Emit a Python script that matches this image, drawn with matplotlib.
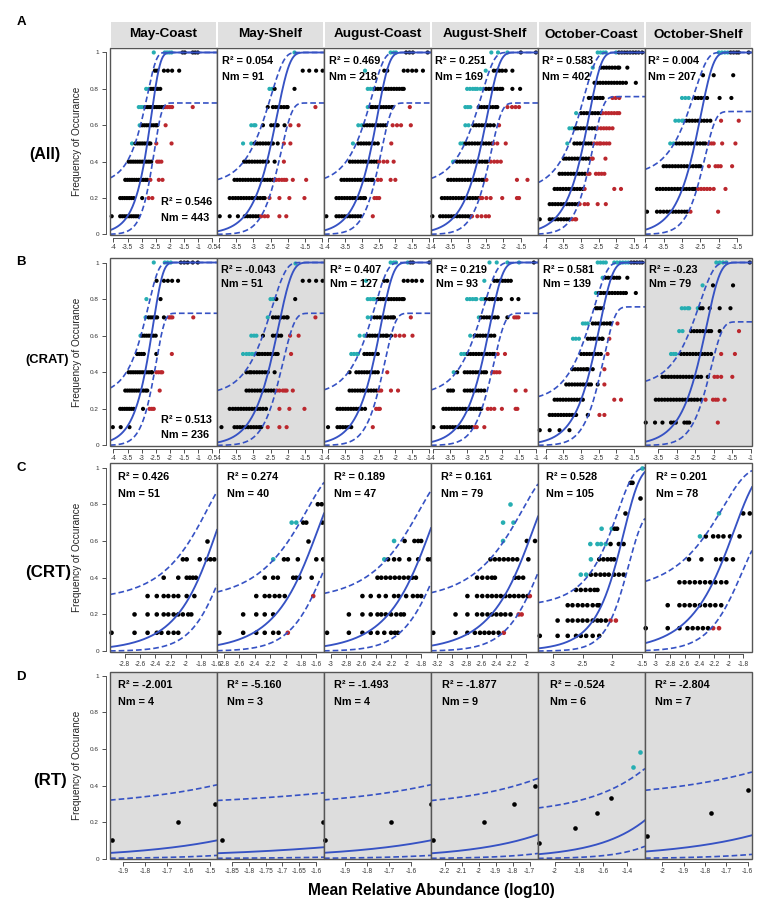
import math
import numpy as np
import matplotlib
matplotlib.use("Agg")
import matplotlib.pyplot as plt
from matplotlib.patches import Rectangle
from matplotlib.ticker import MultipleLocator, FuncFormatter

plt.rcParams['font.family'] = ['Liberation Sans', 'DejaVu Sans']
plt.rcParams['axes.unicode_minus'] = False

# ---------------- data ----------------
strip_titles = ['May-Coast', 'May-Shelf', 'August-Coast', 'August-Shelf', 'October-Coast', 'October-Shelf']
row_letters = ['A', 'B', 'C', 'D']
row_names = ['(All)', '(CRAT)', '(CRT)', '(RT)']
n_samples = [10, 10, 10, 10, 12, 8]

r2_labels = [
    ['0.546', '0.054', '0.469', '0.251', '0.583', '0.004'],
    ['0.513', '-0.043', '0.407', '0.219', '0.581', '-0.23'],
    ['0.426', '0.274', '0.189', '0.161', '0.528', '0.201'],
    ['-2.001', '-5.160', '-1.493', '-1.877', '-0.524', '-2.804'],
]
nm_values = [
    [443, 91, 218, 169, 402, 207],
    [236, 51, 127, 93, 139, 79],
    [51, 40, 47, 79, 105, 78],
    [4, 3, 4, 9, 6, 7],
]

# x range and tick step of every panel
x_limits = [
    [(-4.12, -0.33), (-4.06, -0.94), (-4.12, -0.94), (-4.06, -1.01), (-4.22, -1.19), (-4.005, -1.1)],
    [(-4.12, -0.33), (-4.06, -0.94), (-4.12, -0.94), (-4.06, -0.95), (-4.22, -1.19), (-3.85, -0.97)],
    [(-2.99, -1.595), (-2.89, -1.5), (-3.09, -1.67), (-3.28, -1.84), (-3.25, -1.45), (-3.14, -1.68)],
    [(-1.96, -1.47), (-1.895, -1.576), (-1.995, -1.51), (-2.28, -1.65), (-2.14, -1.25), (-2.08, -1.58)],
]
x_steps = [
    [0.5, 0.5, 0.5, 0.5, 0.5, 0.5],
    [0.5, 0.5, 0.5, 0.5, 0.5, 0.5],
    [0.2, 0.2, 0.2, 0.2, 0.5, 0.2],
    [0.1, 0.05, 0.1, 0.1, 0.2, 0.1],
]

# one point read on each fitted (solid) curve: (log10 abundance, frequency)
curve_refs = [
    [(-2.80, 0.5), (-2.48, 0.5), (-2.69, 0.5), (-2.62, 0.5), (-2.93, 0.5), (-2.65, 0.5)],
    [(-2.76, 0.5), (-2.44, 0.5), (-2.60, 0.5), (-2.52, 0.5), (-2.64, 0.5), (-2.36, 0.5)],
    [(-1.62, 0.63), (-1.50, 0.75), (-1.67, 0.67), (-1.88, 0.69), (-1.92, 0.5), (-1.71, 0.87)],
    [(-1.47, 0.10), (-1.58, 0.062), (-1.52, 0.098), (-1.665, 0.127), (-1.28, 0.195), (-1.60, 0.122)],
]

# taxa: number of samples where found -> log10 mean relative abundance
all_may_coast = {
    1: [-4.06, -3.76, -3.68, -3.6, -3.52, -3.44, -3.36, -3.28, -3.2, -3.12],
    2: [-3.76, -3.68, -3.6, -3.52, -3.44, -3.36, -3.28, -2.98, -2.75, -2.62],
    3: [-3.58, -3.5, -3.42, -3.34, -3.26, -3.18, -3.1, -3.02, -2.94, -2.86, -2.8, -2.69, -2.39, -2.26],
    4: [-3.46, -3.38, -3.3, -3.22, -3.14, -3.06, -2.98, -2.9, -2.82, -2.74, -2.66, -2.45, -2.38, -2.3],
    5: [-3.34, -3.22, -3.14, -3.06, -2.98, -2.9, -2.82, -2.74, -2.69, -2.48, -1.94],
    6: [-3.07, -2.98, -2.9, -2.82, -2.74, -2.66, -2.58, -2.5, -2.45, -2.15],
    7: [-3.1, -3.02, -2.94, -2.86, -2.78, -2.7, -2.62, -2.54, -2.46, -2.38, -2.3, -2.22, -2.15, -2.08, -2.0, -1.92, -1.19],
    8: [-2.84, -2.75, -2.67, -2.59, -2.51, -2.43, -2.34],
    9: [-2.53, -2.45, -2.21, -2.07, -1.92, -1.67],
    10: [-2.57, -2.18, -2.1, -2.02, -1.94, -1.55, -1.47, -1.19, -1.1, -1.01],
}
all_may_shelf = {
    1: [-3.98, -3.69, -3.45, -3.25, -3.17, -3.09, -3.01, -2.93, -2.85, -2.77, -2.67, -2.58, -2.24, -2.04],
    2: [-3.69, -3.6, -3.52, -3.44, -3.36, -3.28, -3.2, -3.12, -3.04, -2.96, -2.88, -2.8, -2.72, -2.67, -2.53, -2.24, -1.95, -1.51],
    3: [-3.55, -3.47, -3.39, -3.31, -3.23, -3.15, -3.07, -2.99, -2.91, -2.83, -2.75, -2.67, -2.59, -2.51, -2.43, -2.38,
        -2.33, -2.25, -2.17, -2.1, -2.04, -1.85, -1.46],
    4: [-3.27, -3.2, -3.12, -3.04, -2.96, -2.88, -2.8, -2.72, -2.64, -2.58, -2.38, -2.11],
    5: [-3.3, -3.06, -2.96, -2.88, -2.8, -2.72, -2.64, -2.56, -2.48, -2.43, -2.29, -2.11, -1.92],
    6: [-3.06, -2.98, -2.94, -2.72, -2.48, -2.4, -2.32, -2.29, -2.09, -1.92, -1.68],
    7: [-2.58, -2.43, -2.35, -2.27, -2.19, -2.11, -2.03, -2.0, -1.19],
    8: [-2.53, -2.45, -2.38, -1.8],
    9: [-1.56, -1.37, -1.17, -0.98],
    10: [-1.82],
}
all_aug_coast = {
    1: [-4.05, -3.75, -3.67, -3.59, -3.51, -3.43, -3.35, -3.27, -3.19, -3.11, -3.03, -2.67],
    2: [-3.75, -3.67, -3.59, -3.51, -3.43, -3.35, -3.27, -3.19, -3.11, -3.03, -2.95, -2.9, -2.62, -2.55, -2.48],
    3: [-3.6, -3.52, -3.44, -3.36, -3.28, -3.2, -3.12, -3.04, -2.96, -2.88, -2.8, -2.72, -2.67, -2.52, -2.43, -2.14, -2.0],
    4: [-3.35, -3.27, -3.19, -3.11, -3.03, -2.95, -2.87, -2.79, -2.71, -2.63, -2.55, -2.48, -2.35, -2.24, -2.05],
    5: [-3.26, -3.1, -3.02, -2.94, -2.86, -2.78, -2.7, -2.62, -2.52, -2.12],
    6: [-3.1, -3.0, -2.92, -2.84, -2.76, -2.68, -2.6, -2.52, -2.44, -2.36, -2.28, -2.08, -1.95, -1.83, -1.54],
    7: [-2.82, -2.72, -2.67, -2.59, -2.51, -2.43, -2.35, -2.27, -2.19, -2.11, -2.08, -1.57],
    8: [-2.82, -2.74, -2.66, -2.6, -2.52, -2.44, -2.36, -2.28, -2.2, -2.12, -2.04, -1.96, -1.88, -1.8, -1.75],
    9: [-2.9, -2.33, -2.24, -1.75, -1.63, -1.5, -1.38, -1.18],
    10: [-2.14, -2.05, -1.98, -1.68, -1.58, -1.48, -1.04],
}
all_aug_shelf = {
    1: [-4.02, -3.8, -3.72, -3.64, -3.56, -3.48, -3.4, -3.32, -3.24, -3.16, -3.08, -3.0, -2.92, -2.89, -2.74, -2.62, -2.5, -2.41],
    2: [-3.75, -3.67, -3.59, -3.51, -3.43, -3.35, -3.27, -3.19, -3.11, -3.03, -2.95, -2.87, -2.79, -2.71, -2.65, -2.6,
        -2.48, -2.36, -2.03, -1.61, -1.55],
    3: [-3.57, -3.49, -3.41, -3.33, -3.25, -3.17, -3.09, -3.01, -2.93, -2.85, -2.77, -2.69, -2.61, -2.56, -2.48, -1.61, -1.31],
    4: [-3.43, -3.32, -3.24, -3.16, -3.08, -3.0, -2.92, -2.84, -2.76, -2.68, -2.6, -2.52, -2.46, -2.36, -2.26, -2.17, -2.07],
    5: [-3.22, -3.15, -3.08, -3.05, -2.97, -2.89, -2.81, -2.73, -2.65, -2.57, -2.49, -2.41, -2.33, -2.28, -2.17, -1.93],
    6: [-3.08, -2.99, -2.85, -2.77, -2.69, -2.61, -2.53, -2.45, -2.37, -2.27, -2.12],
    7: [-3.08, -3.01, -2.94, -2.7, -2.62, -2.54, -2.46, -2.38, -2.3, -2.22, -2.17, -1.88, -1.75, -1.65, -1.55],
    8: [-3.03, -2.95, -2.87, -2.8, -2.74, -2.65, -2.57, -2.49, -2.41, -2.33, -2.25, -2.17, -2.09, -2.03, -1.74, -1.52],
    9: [-2.5, -2.27, -2.19, -2.11, -2.03, -1.93, -1.74],
    10: [-2.34, -2.15, -1.88, -1.5, -1.07],
}
all_oct_coast = {
    1: [-4.17, -3.89, -3.81, -3.73, -3.65, -3.57, -3.49, -3.41, -3.33, -3.25, -3.17, -3.14],
    2: [-3.89, -3.81, -3.73, -3.65, -3.57, -3.49, -3.41, -3.33, -3.25, -3.17, -3.09, -3.04, -2.9, -2.81, -2.53, -2.3],
    3: [-3.75, -3.67, -3.59, -3.51, -3.43, -3.35, -3.27, -3.19, -3.11, -3.03, -2.95, -2.9, -2.06, -1.87],
    4: [-3.61, -3.53, -3.45, -3.37, -3.29, -3.21, -3.13, -3.05, -2.97, -2.89, -2.81, -2.76, -2.58, -2.5, -2.42, -2.34],
    5: [-3.49, -3.42, -3.34, -3.26, -3.18, -3.1, -3.02, -2.94, -2.86, -2.78, -2.7, -2.67, -2.31],
    6: [-3.39, -3.19, -3.11, -3.03, -2.95, -2.87, -2.79, -2.71, -2.63, -2.55, -2.48, -2.44, -2.36, -2.28, -2.2],
    7: [-3.33, -3.25, -3.17, -3.14, -3.09, -3.01, -2.93, -2.85, -2.77, -2.69, -2.61, -2.53, -2.44, -2.36, -2.28, -2.2, -2.11],
    8: [-3.14, -3.0, -2.92, -2.84, -2.76, -2.68, -2.6, -2.52, -2.44, -2.39, -2.3, -2.22, -2.14, -2.06, -1.98, -1.92],
    9: [-2.78, -2.7, -2.62, -2.54, -2.46, -2.39, -2.11, -2.02, -1.92],
    10: [-2.62, -2.54, -2.46, -2.38, -2.3, -2.22, -2.14, -2.06, -1.98, -1.9, -1.82, -1.73, -1.45],
    11: [-2.67, -2.44, -2.36, -2.28, -2.2, -2.12, -2.04, -1.96, -1.92, -1.69],
    12: [-2.53, -2.45, -2.37, -2.3, -2.01, -1.93, -1.85, -1.77, -1.69, -1.61, -1.53, -1.45, -1.37, -1.27],
}
all_oct_shelf = {
    1: [-3.95, -3.68, -3.59, -3.5, -3.41, -3.33, -3.25, -3.17, -3.09, -3.01, -2.93, -2.86, -2.77, -2.02],
    2: [-3.68, -3.6, -3.52, -3.44, -3.36, -3.28, -3.2, -3.12, -3.04, -2.96, -2.88, -2.8, -2.72, -2.68, -2.64, -2.56,
        -2.48, -2.4, -2.32, -2.24, -2.14, -1.82],
    3: [-3.5, -3.42, -3.34, -3.26, -3.18, -3.1, -3.02, -2.94, -2.86, -2.78, -2.7, -2.62, -2.55, -2.5, -2.27, -2.09, -2.02, -1.95, -1.64],
    4: [-3.32, -3.23, -3.15, -3.07, -2.99, -2.91, -2.83, -2.75, -2.67, -2.59, -2.51, -2.43, -2.37, -2.27, -2.2, -2.14, -1.91, -1.55],
    5: [-3.18, -3.09, -3.0, -2.96, -2.88, -2.8, -2.72, -2.64, -2.56, -2.48, -2.4, -2.32, -2.23, -1.94, -1.46],
    6: [-3.0, -2.91, -2.82, -2.64, -2.56, -2.48, -2.4, -2.32, -1.98, -1.66],
    7: [-2.43, -2.14, -1.61],
    8: [-2.0, -1.92, -1.84, -1.76, -1.68, -1.6, -1.52, -1.46, -1.19],
}

crat_may_coast = {
    1: [-4.02, -3.74, -3.43],
    2: [-3.76, -3.68, -3.6, -3.52, -3.44, -3.36, -3.28, -2.95, -2.72, -2.64, -2.57],
    3: [-3.58, -3.5, -3.42, -3.34, -3.26, -3.18, -3.1, -3.02, -2.94, -2.86, -2.8, -2.36],
    4: [-3.46, -3.38, -3.3, -3.22, -3.14, -3.06, -2.98, -2.9, -2.82, -2.74, -2.66, -2.63, -2.48, -2.4, -2.32, -2.27],
    5: [-3.16, -3.08, -3.0, -2.92, -2.48, -1.93],
    6: [-3.04, -2.98, -2.9, -2.82, -2.74, -2.66, -2.58, -2.5],
    7: [-2.86, -2.75, -2.67, -2.59, -2.51, -2.45, -2.21, -2.03, -1.97, -1.91, -1.17],
    8: [-2.83, -2.33],
    9: [-2.47, -2.21, -2.07, -1.92, -1.71],
    10: [-2.57, -2.18, -2.08, -1.97, -1.61, -1.49, -1.37, -1.19, -1.01],
}
crat_may_shelf = {
    1: [-3.93, -3.55, -3.47, -3.39, -3.31, -3.23, -3.15, -3.07, -2.99, -2.91, -2.83, -2.77, -2.58, -2.24, -2.03],
    2: [-3.69, -3.6, -3.52, -3.44, -3.36, -3.28, -3.2, -3.12, -3.04, -2.96, -2.88, -2.8, -2.72, -2.63, -2.24, -1.95, -1.51],
    3: [-3.2, -3.12, -3.04, -2.96, -2.88, -2.8, -2.72, -2.64, -2.56, -2.48, -2.4, -2.32, -2.24, -2.14, -2.08, -2.03, -1.85],
    4: [-3.2, -3.11, -3.06, -2.98, -2.9, -2.82, -2.74, -2.66, -2.58, -2.38],
    5: [-3.3, -3.2, -3.12, -3.04, -2.96, -2.87, -2.82, -2.74, -2.66, -2.58, -2.5, -2.42, -2.34, -2.29, -1.9],
    6: [-3.06, -2.98, -2.91, -2.72, -2.43, -2.35, -2.27, -2.19, -1.93, -1.68],
    7: [-2.58, -2.43, -2.35, -2.27, -2.19, -2.11, -2.03, -2.0, -1.19],
    8: [-2.5, -2.42, -2.33, -1.78],
    9: [-1.56, -1.37, -1.17, -0.98],
    10: [-1.8],
}
crat_aug_coast = {
    1: [-4.0, -3.72, -3.64, -3.56, -3.48, -3.4, -3.31, -2.67],
    2: [-3.72, -3.64, -3.56, -3.48, -3.4, -3.32, -3.24, -3.16, -3.08, -3.0, -2.9, -2.57, -2.5, -2.46],
    3: [-3.36, -3.28, -3.2, -3.12, -3.04, -2.96, -2.88, -2.8, -2.72, -2.64, -2.56, -2.48, -2.42, -2.13, -1.92],
    4: [-3.36, -3.16, -3.08, -3.0, -2.92, -2.84, -2.76, -2.68, -2.6, -2.52, -2.24],
    5: [-3.31, -3.23, -3.15, -3.11, -2.92, -2.84, -2.76, -2.68, -2.6, -2.52],
    6: [-3.06, -2.92, -2.84, -2.76, -2.68, -2.6, -2.52, -2.44, -2.36, -2.28, -2.24, -2.13, -2.0, -1.87, -1.74, -1.49],
    7: [-2.82, -2.72, -2.62, -2.54, -2.46, -2.38, -2.3, -2.22, -2.14, -2.08, -2.04, -1.54],
    8: [-2.82, -2.74, -2.66, -2.62, -2.52, -2.44, -2.36, -2.28, -2.2, -2.12, -2.04, -1.96, -1.88, -1.8, -1.75],
    9: [-2.87, -2.33, -2.24, -1.75, -1.63, -1.5, -1.38, -1.21],
    10: [-2.14, -2.05, -1.98, -1.63, -1.55, -1.48, -0.99],
}
crat_aug_shelf = {
    1: [-3.99, -3.75, -3.67, -3.59, -3.51, -3.43, -3.35, -3.27, -3.19, -3.11, -3.03, -2.95, -2.87, -2.79, -2.73, -2.51],
    2: [-3.7, -3.62, -3.54, -3.46, -3.38, -3.3, -3.22, -3.14, -3.06, -2.98, -2.9, -2.82, -2.74, -2.66, -2.6, -2.41,
        -2.32, -2.22, -2.0, -1.6, -1.55],
    3: [-3.56, -3.49, -3.42, -3.08, -3.0, -2.92, -2.84, -2.76, -2.68, -2.6, -2.51, -1.6, -1.31],
    4: [-3.4, -3.3, -3.08, -3.0, -2.92, -2.84, -2.76, -2.68, -2.6, -2.52, -2.46, -2.28, -2.22, -2.15, -2.07],
    5: [-3.18, -3.1, -3.03, -2.99, -2.91, -2.83, -2.75, -2.67, -2.59, -2.51, -2.43, -2.35, -2.27, -2.22, -2.12, -1.91],
    6: [-2.92, -2.79, -2.71, -2.63, -2.55, -2.47, -2.39, -2.31, -2.22],
    7: [-2.67, -2.6, -2.52, -2.44, -2.36, -2.28, -2.2, -2.12, -1.84, -1.64, -1.58, -1.52],
    8: [-3.01, -2.93, -2.85, -2.77, -2.74, -2.6, -2.53, -2.46, -2.36, -2.28, -2.2, -2.12, -2.03, -1.71, -1.52],
    9: [-2.51, -2.22, -2.14, -2.06, -1.98, -1.9, -1.82, -1.74],
    10: [-2.36, -2.15, -1.84, -1.5, -1.07],
}
crat_oct_coast = {
    1: [-4.17, -3.89, -3.61, -3.33],
    2: [-3.89, -3.81, -3.73, -3.65, -3.57, -3.49, -3.41, -3.33, -3.25, -3.17, -3.14, -2.81, -2.48, -2.34],
    3: [-3.75, -3.67, -3.59, -3.51, -3.43, -3.35, -3.27, -3.19, -3.11, -3.03, -2.95, -2.06, -1.87],
    4: [-3.42, -3.34, -3.26, -3.18, -3.1, -3.02, -2.94, -2.86, -2.78, -2.72, -2.53, -2.34],
    5: [-3.25, -3.17, -3.09, -3.01, -2.93, -2.85, -2.81, -2.67, -2.34],
    6: [-3.0, -2.92, -2.84, -2.76, -2.68, -2.6, -2.52, -2.44, -2.25],
    7: [-3.23, -3.15, -3.06, -2.81, -2.73, -2.65, -2.57, -2.49, -2.41, -2.39, -2.2],
    8: [-2.95, -2.88, -2.81, -2.67, -2.59, -2.51, -2.43, -2.35, -2.27, -2.19, -2.16, -1.97],
    9: [-2.58, -2.53, -2.46, -2.39],
    10: [-2.58, -2.5, -2.44, -2.36, -2.28, -2.2, -2.12, -2.04, -1.96, -1.88, -1.8, -1.73, -1.45],
    11: [-2.39, -2.31, -2.23, -2.15, -2.07, -1.99, -1.92, -1.69],
    12: [-2.53, -2.45, -2.37, -2.3, -2.06, -1.98, -1.9, -1.82, -1.74, -1.66, -1.58, -1.5, -1.42, -1.34, -1.27],
}
crat_oct_shelf = {
    1: [-3.83, -3.58, -3.38, -3.15, -3.08, -3.02, -2.79, -2.72, -2.66, -1.89],
    2: [-3.56, -3.48, -3.4, -3.32, -3.24, -3.16, -3.08, -3.0, -2.92, -2.84, -2.76, -2.68, -2.6, -2.52, -2.44, -2.34,
        -2.22, -2.02, -1.95, -1.89, -1.71],
    3: [-3.38, -3.3, -3.22, -3.14, -3.06, -2.98, -2.9, -2.82, -2.74, -2.66, -2.58, -2.5, -2.42, -2.34, -2.16, -1.98, -1.9, -1.8, -1.5],
    4: [-3.15, -3.08, -3.02, -2.88, -2.8, -2.72, -2.64, -2.56, -2.48, -2.4, -2.32, -2.24, -2.16, -2.07, -1.8, -1.43],
    5: [-2.93, -2.84, -2.61, -2.53, -2.45, -2.37, -2.29, -2.21, -2.13, -2.07, -1.84, -1.32],
    6: [-2.86, -2.78, -2.7, -2.66, -2.43, -2.36, -2.3, -2.11, -1.84, -1.55],
    7: [-2.3, -2.02, -1.48],
    8: [-1.93, -1.84, -1.75, -1.66, -1.03],
}

crt_may_coast = {
    1: [-2.97, -2.67, -2.5, -2.38, -2.32, -2.23, -2.16, -2.1],
    2: [-2.67, -2.5, -2.38, -2.29, -2.23, -2.16, -2.1, -2.04, -1.97, -1.93],
    3: [-2.5, -2.38, -2.29, -2.23, -2.16, -2.1, -1.99, -1.89],
    4: [-2.29, -2.1, -1.99, -1.95, -1.91, -1.87],
    5: [-2.04, -1.99, -1.82, -1.73, -1.68, -1.63],
    6: [-1.73],
}
crt_may_shelf = {
    1: [-2.86, -2.55, -2.38, -2.27, -2.16, -2.09, -1.97],
    2: [-2.55, -2.38, -2.27, -2.16],
    3: [-2.38, -2.27, -2.21, -2.14, -2.08, -2.01, -1.64],
    4: [-2.27, -2.16, -2.1, -1.9, -1.86, -1.82, -1.66],
    5: [-2.16, -2.02, -1.97, -1.84, -1.6, -1.51],
    6: [-1.71],
    7: [-1.92, -1.86, -1.77, -1.73, -1.52],
    8: [-1.58, -1.53],
}
crt_aug_coast = {
    1: [-3.05, -2.76, -2.58, -2.47, -2.38, -2.29, -2.2, -2.15, -2.11],
    2: [-2.76, -2.58, -2.47, -2.38, -2.33, -2.27, -2.2, -2.13, -2.07, -2.03],
    3: [-2.58, -2.47, -2.36, -2.27, -2.16, -2.1, -2.0, -1.91, -1.85, -1.8],
    4: [-2.38, -2.33, -2.27, -2.21, -2.15, -2.09, -2.03, -1.97, -1.92, -1.87],
    5: [-2.29, -2.24, -2.16, -2.09, -1.96, -1.84, -1.71, -1.67],
    6: [-2.16, -2.02, -1.89, -1.84, -1.8],
}
crt_aug_shelf = {
    1: [-3.25, -2.95, -2.79, -2.69, -2.62, -2.56, -2.5, -2.44, -2.37, -2.3],
    2: [-2.95, -2.79, -2.66, -2.59, -2.52, -2.46, -2.4, -2.34, -2.28, -2.21, -2.1, -2.06],
    3: [-2.79, -2.66, -2.59, -2.52, -2.46, -2.4, -2.34, -2.28, -2.22, -2.16, -2.1, -2.04, -1.98, -1.95],
    4: [-2.66, -2.59, -2.52, -2.46, -2.42, -2.15, -2.1, -2.04],
    5: [-2.48, -2.42, -2.36, -2.3, -2.24, -2.18, -2.12, -1.97],
    6: [-2.31, -1.99, -1.88],
    7: [-2.31, -2.17],
    8: [-2.22],
}
crt_oct_coast = {
    1: [-3.22, -2.92, -2.75, -2.61, -2.53, -2.44, -2.33, -2.22],
    2: [-2.92, -2.75, -2.67, -2.58, -2.5, -2.42, -2.33, -2.25, -2.19, -2.11, -2.03, -1.94],
    3: [-2.75, -2.67, -2.58, -2.5, -2.42, -2.33, -2.25, -2.22],
    4: [-2.61, -2.53, -2.45, -2.37, -2.3, -2.25],
    5: [-2.53, -2.44, -2.36, -2.28, -2.2, -2.13, -2.06, -1.97, -1.89, -1.81],
    6: [-2.36, -2.22, -2.15, -2.08, -2.02, -1.97],
    7: [-2.37, -2.25, -2.19, -2.11, -2.03, -1.89, -1.81],
    8: [-2.18, -2.01, -1.96, -1.92],
    9: [-1.79],
    10: [-1.54],
    11: [-1.69, -1.66],
    12: [-1.5],
}
crt_oct_shelf = {
    1: [-3.13, -2.83, -2.67, -2.56, -2.49, -2.42, -2.35, -2.28, -2.21, -2.13],
    2: [-2.83, -2.67, -2.6, -2.53, -2.46, -2.39, -2.32, -2.25, -2.18, -2.1],
    3: [-2.67, -2.6, -2.53, -2.46, -2.39, -2.32, -2.25, -2.18, -2.1, -2.03],
    4: [-2.54, -2.37, -2.17, -2.1, -2.03, -1.94],
    5: [-2.39, -2.31, -2.21, -2.14, -2.07, -1.98, -1.85],
    6: [-2.13, -1.8, -1.71],
}

rt_may_coast = {1: [-1.95], 2: [-1.65], 3: [-1.48]}
rt_may_shelf = {1: [-1.88], 2: [-1.58]}
rt_aug_coast = {1: [-1.99], 2: [-1.69], 3: [-1.51]}
rt_aug_shelf = {1: [-2.27], 2: [-1.97], 3: [-1.79], 4: [-1.67]}
rt_oct_coast = {1: [-2.13], 2: [-1.83], 3: [-1.65], 4: [-1.53], 6: [-1.35], 7: [-1.29]}
rt_oct_shelf = {1: [-2.07], 2: [-1.77], 3: [-1.6]}

panel_points = [
    [all_may_coast, all_may_shelf, all_aug_coast, all_aug_shelf, all_oct_coast, all_oct_shelf],
    [crat_may_coast, crat_may_shelf, crat_aug_coast, crat_aug_shelf, crat_oct_coast, crat_oct_shelf],
    [crt_may_coast, crt_may_shelf, crt_aug_coast, crt_aug_shelf, crt_oct_coast, crt_oct_shelf],
    [rt_may_coast, rt_may_shelf, rt_aug_coast, rt_aug_shelf, rt_oct_coast, rt_oct_shelf],
]
gray_panels = [(1, 1), (1, 5), (3, 0), (3, 1), (3, 2), (3, 3), (3, 4), (3, 5)]


# ---------------- neutral model helpers ----------------
lgam = np.vectorize(math.lgamma)


def neutral_freq(logp, nm, d):
    # 1 - pbeta(d, Nm*p, Nm*(1-p)) computed on a log grid
    p = 10.0 ** np.atleast_1d(np.asarray(logp, dtype=float))
    a = nm * p
    b = nm * (1 - p)
    u = np.linspace(np.log(d), 0.0, 4000)
    x = np.minimum(np.exp(u), 1 - 1e-15)
    lx = np.log1p(-x)
    logB = lgam(a) + lgam(b) - lgam(a + b)
    logf = a[:, None] * u[None, :] + (b[:, None] - 1) * lx[None, :] - logB[:, None]
    return np.clip(np.trapezoid(np.exp(logf), u, axis=1), 0, 1)


def solve_d(xr, fr, nm):
    lo, hi = -14.0, -0.01
    for _ in range(45):
        mid = 0.5 * (lo + hi)
        if neutral_freq(xr, nm, math.exp(mid))[0] > fr:
            lo = mid
        else:
            hi = mid
    return math.exp(0.5 * (lo + hi))


def wilson(p, n, z=1.96):
    c = z * z / n
    spread = z * np.sqrt(p * (1 - p) / n + z * z / (4 * n * n))
    return (p + c / 2 - spread) / (1 + c), (p + c / 2 + spread) / (1 + c)


# ---------------- figure ----------------
W, H = 767, 911
fig = plt.figure(figsize=(W / 100, H / 100), dpi=100)

col_edges = [110, 217, 324, 431, 538, 645, 752]
row_tops = [48.3, 258.3, 463.3, 671.7]
row_bots = [235.0, 446.0, 651.7, 859.2]
r2_offsets = [(12.7, 28.7), (12.0, 26.0), (13.4, 31.0), (13.3, 30.0)]
text_left = [[4.5, 4.5, 5, 4, 4.3, 2.5], [4.3, 4.3, 6.5, 5, 5.3, 3.7], [8, 10, 10, 10, 8, 11], [8, 10, 10, 11, 12, 10]]

line_col = '#3652c4'
cyan = '#26aeb2'
red = '#bb272d'
fmt = FuncFormatter(lambda v, _: '%g' % round(v, 3))


def fpos(l, t, r, b):
    return [l / W, 1 - b / H, (r - l) / W, (b - t) / H]


for j, title in enumerate(strip_titles):
    l, r = col_edges[j] + 1, col_edges[j + 1] - 1
    fig.add_artist(Rectangle((l / W, 1 - 46.7 / H), (r - l) / W, 24.4 / H,
                             transform=fig.transFigure, facecolor='#e0e0e0', edgecolor='none'))
    fig.text((l + r) / 2 / W, 1 - 34.5 / H, title, ha='center', va='center',
             fontsize=9.7, fontweight='bold')

for i in range(4):
    top, bot = row_tops[i], row_bots[i]
    for j in range(6):
        ax = fig.add_axes(fpos(col_edges[j], top, col_edges[j + 1], bot))
        n = n_samples[j]
        nm = nm_values[i][j]
        xlo, xhi = x_limits[i][j]
        xr, fr = curve_refs[i][j]
        d = solve_d(xr, fr, nm)

        if (i, j) in gray_panels:
            ax.set_facecolor('#dddddd')

        # points coloured by position against the confidence band
        pts = panel_points[i][j]
        for k, xs in pts.items():
            xs = np.array(xs)
            yv = k / n
            f = neutral_freq(xs, nm, d)
            lo_b, hi_b = wilson(f, n)
            cols = np.where(yv > hi_b + 1e-9, cyan, np.where(yv < lo_b - 1e-9, red, 'black'))
            ax.scatter(xs, np.full(len(xs), yv), s=9 if i < 2 else 11, c=list(cols),
                       linewidths=0, zorder=2, clip_on=False)

        xg = np.linspace(xlo, xhi, 300)
        fg = neutral_freq(xg, nm, d)
        lo_g, hi_g = wilson(fg, n)
        ax.plot(xg, fg, color=line_col, lw=1.35, zorder=3)
        ax.plot(xg, lo_g, color=line_col, lw=1.2, ls=(0, (3.4, 1.8)), zorder=3)
        ax.plot(xg, hi_g, color=line_col, lw=1.2, ls=(0, (3.4, 1.8)), zorder=3)

        ax.set_xlim(xlo, xhi)
        ax.set_ylim(-0.003, 1.023)

        # box + R style axes
        for s in ax.spines.values():
            s.set_visible(False)
        ax.add_patch(Rectangle((0, 0), 1, 1, transform=ax.transAxes, fill=False,
                               edgecolor='#555555', lw=1.0, clip_on=False, zorder=5))
        ax.xaxis.set_major_locator(MultipleLocator(x_steps[i][j]))
        ax.xaxis.set_major_formatter(fmt)
        ticks = [t for t in ax.get_xticks() if xlo - 1e-9 <= t <= xhi + 1e-9]
        ax.spines['bottom'].set_visible(True)
        ax.spines['bottom'].set_position(('outward', 2))
        ax.spines['bottom'].set_bounds(ticks[0], ticks[-1])
        ax.spines['bottom'].set_color('#555555')
        ax.spines['bottom'].set_linewidth(0.7)
        ax.tick_params(axis='x', length=3, width=0.6, pad=1.5, labelsize=4.7,
                       colors='#333333')
        if j == 0:
            ax.spines['left'].set_visible(True)
            ax.spines['left'].set_position(('outward', 3))
            ax.spines['left'].set_bounds(0, 1)
            ax.spines['left'].set_color('#555555')
            ax.spines['left'].set_linewidth(0.7)
            ax.set_yticks([0, 0.2, 0.4, 0.6, 0.8, 1.0])
            ax.yaxis.set_major_formatter(fmt)
            ax.tick_params(axis='y', length=3, width=0.6, pad=2, labelsize=4.6,
                           colors='#333333')
        else:
            ax.set_yticks([])

        # annotation
        r2 = 'R\u00b2 = ' + r2_labels[i][j]
        nmt = 'Nm = %d' % nm
        h = bot - top
        if i < 2 and j == 0:
            below = [(33, 17), (26, 11)][i]
            ax.text(51 / 107, below[0] / h, r2, transform=ax.transAxes, ha='left', va='center',
                    fontsize=7.8, fontweight='bold', zorder=6)
            ax.text(51 / 107, below[1] / h, nmt, transform=ax.transAxes, ha='left', va='center',
                    fontsize=7.8, fontweight='bold', zorder=6)
        else:
            dx = text_left[i][j] / 107
            o1, o2 = r2_offsets[i]
            ax.text(dx, 1 - o1 / h, r2, transform=ax.transAxes, ha='left', va='center',
                    fontsize=7.8, fontweight='bold', zorder=6)
            ax.text(dx, 1 - o2 / h, nmt, transform=ax.transAxes, ha='left', va='center',
                    fontsize=7.8, fontweight='bold', zorder=6)

    mid = (top + bot) / 2
    fig.text(77 / W, 1 - mid / H, 'Frequency of Occurance', rotation=90, ha='center',
             va='center', fontsize=7.2, color='#222222')

row_label_pos = [(45, 154), (46.7, 360), (48, 573), (50.5, 780)]
row_label_size = [11.6, 9.4, 12.2, 12.2]
letter_y = [21.7, 261.7, 468, 676.7]
for i in range(4):
    fig.text(row_label_pos[i][0] / W, 1 - row_label_pos[i][1] / H, row_names[i],
             ha='center', va='center', fontsize=row_label_size[i], fontweight='bold')
    fig.text(21 / W, 1 - letter_y[i] / H, row_letters[i], ha='center', va='center',
             fontsize=9.5, fontweight='bold')

fig.text(431 / W, 1 - 891 / H, 'Mean Relative Abundance (log10)', ha='center', va='center',
         fontsize=11.2, fontweight='bold')

fig.savefig('out.png', dpi=100)
